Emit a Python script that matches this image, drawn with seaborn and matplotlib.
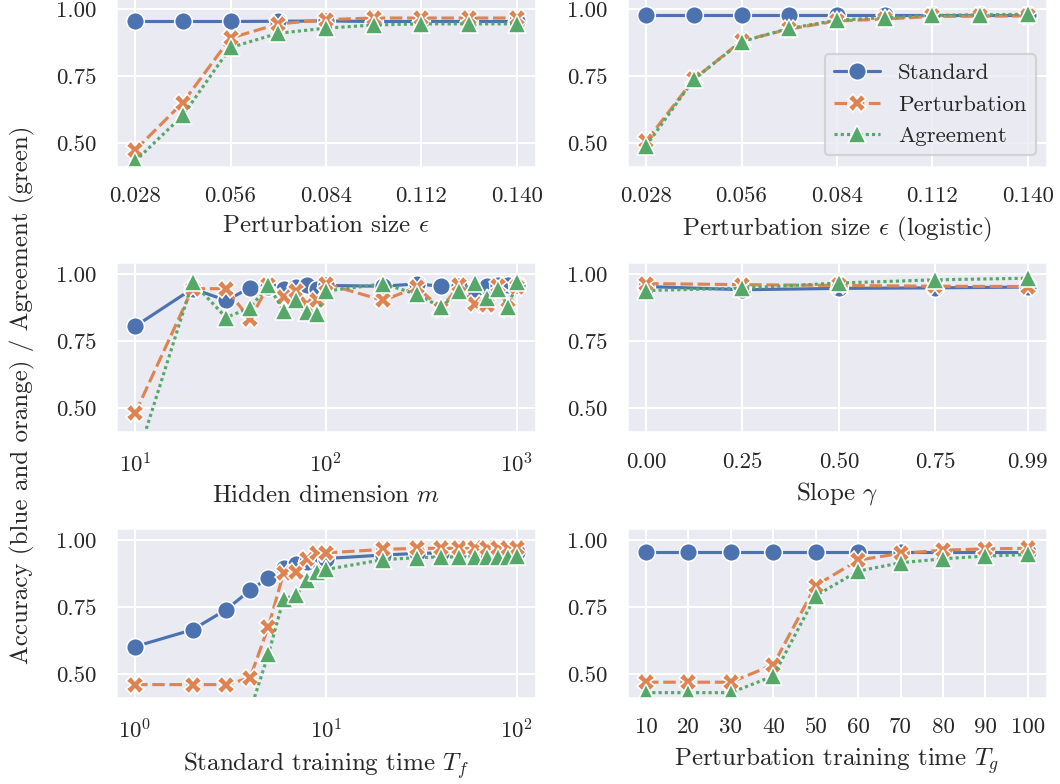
import matplotlib
matplotlib.use("Agg")
import matplotlib.pyplot as plt
import pandas as pd
import seaborn as sns

SERIES = ["Standard", "Perturbation", "Agreement"]

# Perturbation size, linear model
eps = [0.028, 0.042, 0.056, 0.070, 0.084, 0.098, 0.112, 0.126, 0.140]
eps_standard = [0.953, 0.953, 0.953, 0.954, 0.955, 0.953, 0.953, 0.953, 0.953]
eps_perturb = [0.472, 0.650, 0.891, 0.944, 0.960, 0.966, 0.966, 0.966, 0.966]
eps_agree = [0.431, 0.602, 0.856, 0.909, 0.928, 0.940, 0.944, 0.944, 0.944]

# Perturbation size, logistic model
eps_log_standard = [0.979, 0.979, 0.979, 0.979, 0.979, 0.979, 0.979, 0.979, 0.979]
eps_log_perturb = [0.505, 0.737, 0.880, 0.925, 0.955, 0.962, 0.972, 0.973, 0.974]
eps_log_agree = [0.488, 0.737, 0.878, 0.927, 0.958, 0.967, 0.976, 0.978, 0.980]

# Hidden dimension
hidden = [10, 20, 30, 40, 50, 60, 70, 80, 90, 100,
          200, 300, 400, 500, 600, 700, 800, 900, 1000]
hidden_standard = [0.806, 0.947, 0.903, 0.950, 0.955, 0.947, 0.953, 0.959, 0.947, 0.959,
                   0.956, 0.965, 0.956, 0.958, 0.947, 0.956, 0.959, 0.959, 0.959]
hidden_perturb = [0.481, 0.947, 0.947, 0.833, 0.959, 0.916, 0.940, 0.891, 0.903, 0.965,
                  0.903, 0.953, 0.872, 0.959, 0.891, 0.885, 0.956, 0.872, 0.953]
hidden_agree = [0.290, 0.971, 0.839, 0.876, 0.959, 0.864, 0.906, 0.860, 0.854, 0.938,
                0.965, 0.926, 0.878, 0.938, 0.968, 0.913, 0.947, 0.878, 0.971]

# Slope
slope = [0.0, 0.25, 0.5, 0.75, 0.99]
slope_standard = [0.955, 0.943, 0.948, 0.950, 0.953]
slope_perturb = [0.966, 0.962, 0.959, 0.956, 0.955]
slope_agree = [0.940, 0.949, 0.968, 0.980, 0.986]
slope_ticklabels = ["0.00", "0.25", "0.50", "0.75", "0.99"]

# Standard training time
t_std = [1, 2, 3, 4, 5, 6, 7, 8, 9, 10, 20, 30, 40, 50, 60, 70, 80, 90, 100]
t_std_standard = [0.602, 0.665, 0.740, 0.812, 0.859, 0.894, 0.910, 0.919, 0.925, 0.931,
                  0.944, 0.950, 0.952, 0.954, 0.954, 0.954, 0.954, 0.954, 0.954]
t_std_perturb = [0.460, 0.460, 0.460, 0.485, 0.677, 0.877, 0.881, 0.931, 0.950, 0.952,
                 0.965, 0.969, 0.969, 0.969, 0.969, 0.969, 0.969, 0.969, 0.969]
t_std_agree = [0.330, 0.330, 0.330, 0.360, 0.575, 0.781, 0.794, 0.852, 0.881, 0.890,
               0.927, 0.934, 0.937, 0.937, 0.937, 0.937, 0.937, 0.938, 0.940]

# Perturbation training time
t_pert = [10, 20, 30, 40, 50, 60, 70, 80, 90, 100]
t_pert_standard = [0.955, 0.955, 0.955, 0.955, 0.955, 0.955, 0.955, 0.955, 0.955, 0.955]
t_pert_perturb = [0.469, 0.469, 0.469, 0.534, 0.830, 0.925, 0.950, 0.962, 0.967, 0.969]
t_pert_agree = [0.430, 0.430, 0.430, 0.492, 0.792, 0.884, 0.915, 0.930, 0.940, 0.946]

MARKER_SIZE = 8.5


def long_frame(x, standard, perturb, agree):
    parts = []
    for name, vals in zip(SERIES, (standard, perturb, agree)):
        parts.append(pd.DataFrame({"x": x, "value": vals, "series": name}))
    return pd.concat(parts, ignore_index=True)


sns.set_theme(context="notebook", style="darkgrid", palette="deep")
plt.rcParams["font.family"] = ["cmr10"]
plt.rcParams["mathtext.fontset"] = "cm"
plt.rcParams["axes.formatter.use_mathtext"] = True

fig, axes = plt.subplots(3, 2, figsize=(1060 / 150, 784 / 150), dpi=150)
fig.subplots_adjust(left=0.1094, right=0.9877, bottom=0.1097, top=1.004,
                    wspace=0.2167, hspace=0.562)

panels = [
    (axes[0, 0], eps, eps_standard, eps_perturb, eps_agree,
     r"Perturbation size $\epsilon$", False),
    (axes[0, 1], eps, eps_log_standard, eps_log_perturb, eps_log_agree,
     r"Perturbation size $\epsilon$ (logistic)", False),
    (axes[1, 0], hidden, hidden_standard, hidden_perturb, hidden_agree,
     r"Hidden dimension $m$", True),
    (axes[1, 1], slope, slope_standard, slope_perturb, slope_agree,
     r"Slope $\gamma$", False),
    (axes[2, 0], t_std, t_std_standard, t_std_perturb, t_std_agree,
     r"Standard training time $T_f$", True),
    (axes[2, 1], t_pert, t_pert_standard, t_pert_perturb, t_pert_agree,
     r"Perturbation training time $T_g$", False),
]

for ax, x, s, p, a, xlabel, logx in panels:
    df = long_frame(x, s, p, a)
    if logx:
        ax.set_xscale("log")
    sns.lineplot(data=df, x="x", y="value", hue="series", style="series",
                 markers=["o", "X", "^"], dashes=True, errorbar=None,
                 markersize=MARKER_SIZE, ax=ax)
    ax.set_xlabel(xlabel)
    ax.set_ylabel("")
    ax.set_ylim(0.41, 1.045)
    ax.set_yticks([0.5, 0.75, 1.0])
    ax.set_yticklabels(["0.50", "0.75", "1.00"])
    ax.get_legend().remove()

for ax in (axes[0, 0], axes[0, 1]):
    ticks = eps[::2]
    ax.set_xticks(ticks)
    ax.set_xticklabels([f"{t:.3f}" for t in ticks])

axes[1, 1].set_xticks(slope)
axes[1, 1].set_xticklabels(slope_ticklabels)

axes[2, 1].set_xticks(t_pert)
axes[2, 1].set_xticklabels([str(t) for t in t_pert])

for ax in (axes[1, 0], axes[2, 0]):
    ax.minorticks_off()

handles, labels = axes[0, 1].get_legend_handles_labels()
handles, labels = handles[-3:], labels[-3:]
for h in handles:
    h.set_markersize(MARKER_SIZE)
axes[0, 1].legend(handles, labels, loc="lower right")

fig.text(0.021, 0.497, "Accuracy (blue and orange) / Agreement (green)",
         rotation=90, ha="center", va="center", fontsize=12)

fig.savefig("out.png", dpi=150)
